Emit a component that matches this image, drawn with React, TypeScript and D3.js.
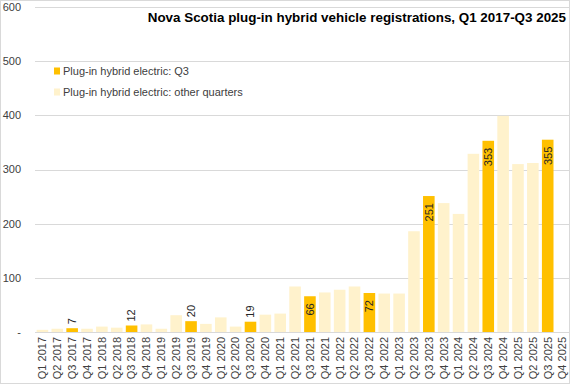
import React from "react";
import * as d3 from "d3";

const quarters = [
  "Q1 2017", "Q2 2017", "Q3 2017", "Q4 2017",
  "Q1 2018", "Q2 2018", "Q3 2018", "Q4 2018",
  "Q1 2019", "Q2 2019", "Q3 2019", "Q4 2019",
  "Q1 2020", "Q2 2020", "Q3 2020", "Q4 2020",
  "Q1 2021", "Q2 2021", "Q3 2021", "Q4 2021",
  "Q1 2022", "Q2 2022", "Q3 2022", "Q4 2022",
  "Q1 2023", "Q2 2023", "Q3 2023", "Q4 2023",
  "Q1 2024", "Q2 2024", "Q3 2024", "Q4 2024",
  "Q1 2025", "Q2 2025", "Q3 2025", "Q4 2025",
];

// registrations per quarter (null = not yet reported)
const registrations: (number | null)[] = [
  4, 6, 7, 6,
  10, 8, 12, 14,
  6, 31, 20, 15,
  27, 10, 19, 32,
  34, 84, 66, 73,
  78, 84, 72, 71,
  71, 186, 251, 238,
  218, 329, 353, 399,
  310, 312, 355, null,
];

const yTicks = [0, 100, 200, 300, 400, 500, 600];
const legendLabels = ["Plug-in hybrid electric: Q3", "Plug-in hybrid electric: other quarters"];

const W = 571;
const H = 385;
const Q3_COLOR = "#FFC000";
const OTHER_COLOR = "#FFF2CC";
const FONT = "'Liberation Sans', Arial, sans-serif";

export default function App() {
  const x = d3.scaleBand().domain(quarters).range([35, 570]).paddingInner(0.22).paddingOuter(0.11);
  const y = d3.scaleLinear().domain([0, 600]).range([332, 7]);

  const isQ3 = (q: string) => q.startsWith("Q3");

  return (
    <svg
      width={W}
      height={H}
      style={{ position: "fixed", left: 0, top: 0, background: "#fff" }}
      fontFamily={FONT}
    >
      <rect x={0.5} y={0.5} width={569} height={383} fill="#fff" stroke="#d9d9d9" />

      {yTicks.map((t) => (
        <g key={t}>
          {t > 0 && (
            <line x1={35} x2={569} y1={Math.round(y(t)) + 0.5} y2={Math.round(y(t)) + 0.5} stroke="#d9d9d9" />
          )}
          <text x={21} y={y(t)} dy="0.35em" textAnchor="end" fontSize={11} fill="#404040">
            {t === 0 ? "-" : t}
          </text>
        </g>
      ))}

      {quarters.map((q, i) => {
        const v = registrations[i];
        if (v == null) return null;
        const bx = x(q)!;
        const by = y(v);
        return (
          <rect key={q} x={bx} y={by} width={x.bandwidth()} height={y(0) - by} fill={isQ3(q) ? Q3_COLOR : OTHER_COLOR} />
        );
      })}

      <line x1={35} x2={569} y1={332.5} y2={332.5} stroke="#d9d9d9" />

      {quarters.map((q, i) => {
        const v = registrations[i];
        if (v == null || !isQ3(q)) return null;
        const cx = x(q)! + x.bandwidth() / 2;
        const top = y(v);
        const inside = v > 40;
        const ty = inside ? top + 7 : top - 4;
        return (
          <text
            key={q}
            transform={`translate(${cx},${ty}) rotate(-90)`}
            textAnchor={inside ? "end" : "start"}
            dy="0.35em"
            fontSize={11}
            fill="#262626"
          >
            {v}
          </text>
        );
      })}

      {quarters.map((q) => (
        <text
          key={q}
          transform={`translate(${x(q)! + x.bandwidth() / 2},${337}) rotate(-90)`}
          textAnchor="end"
          dy="0.35em"
          fontSize={11}
          fill="#404040"
        >
          {q}
        </text>
      ))}

      <text x={566} y={22} textAnchor="end" fontSize={13.4} fontWeight="bold" fill="#000">
        Nova Scotia plug-in hybrid vehicle registrations, Q1 2017-Q3 2025
      </text>

      {legendLabels.map((label, i) => (
        <g key={label} transform={`translate(54,${71 + i * 21})`}>
          <rect x={0} y={-3.5} width={6} height={7} fill={i === 0 ? Q3_COLOR : OTHER_COLOR} />
          <text x={9} y={0} dy="0.35em" fontSize={11} fill="#404040">
            {label}
          </text>
        </g>
      ))}
    </svg>
  );
}
